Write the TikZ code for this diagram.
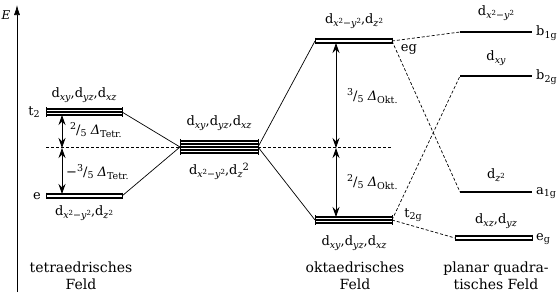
\documentclass[tikz,border=0pt]{standalone}
\usepackage{fontspec}
\setmainfont{DejaVu Serif}
\usetikzlibrary{arrows.meta}
\newcommand\mylevel[5]{%
  \coordinate (#1-l) at (#2,#4);
  \coordinate (#1-r) at (#3,#4);
  \pgfmathsetmacro\hh{1.6*(#5-1)}
  \ifnum#5>1
    \foreach \k in {1,...,#5}{\draw[levelline] (#2,{#4-\hh+3.2*(\k-1)}) -- (#3,{#4-\hh+3.2*(\k-1)});}
    \draw[capline] (#2,{#4-\hh-1.8}) -- (#2,{#4+\hh+1.8});
    \draw[capline] (#3,{#4-\hh-1.8}) -- (#3,{#4+\hh+1.8});
  \else
    \draw[singleline] (#2,#4) -- (#3,#4);
  \fi
}
\newcommand\sbs[1]{\raisebox{-0.35ex}{\fontsize{9.5}{10}\selectfont #1}}
\newcommand\sps[1]{\raisebox{0.55ex}{\fontsize{7}{7}\selectfont #1}}
\newcommand\dsub[1]{d\sbs{#1}}
\newcommand\xx{\textit{x}}
\newcommand\yy{\textit{y}}
\newcommand\zz{\textit{z}}
\newcommand\frc[2]{\raisebox{0.7ex}{\fontsize{9.5}{10}\selectfont #1}/\raisebox{-0.3ex}{\fontsize{9.5}{10}\selectfont #2}}
\begin{document}
\begin{tikzpicture}[x=1pt,y=-1pt,
  levelline/.style={line width=2.1pt},
  singleline/.style={line width=1.8pt},
  capline/.style={line width=0.6pt},
  conn/.style={line width=0.7pt},
  dconn/.style={line width=0.7pt,dash pattern=on 3pt off 2pt},
  gap/.style={line width=0.8pt,{Stealth[length=10pt,width=7pt]}-{Stealth[length=10pt,width=7pt]}},
  lbl/.style={font=\fontsize{13}{14}\selectfont,inner sep=0pt},
  big/.style={font=\fontsize{14}{16.5}\selectfont,inner sep=0pt,align=center}]
\useasboundingbox (0,0) rectangle (560,298);
% axis
\coordinate (ax0) at (17,292);
\coordinate (ax1) at (17,5);
\draw[line width=0.7pt,-{Latex[length=10pt,width=6pt]}] (ax0) -- (ax1);
\node[lbl,font=\fontsize{12}{13}\selectfont\itshape] (E) at (6,15) {E};
% levels
\mylevel{tt}{46}{122}{112}{3}
\mylevel{te}{46}{122}{196}{2}
\mylevel{c}{180}{258}{147}{5}
\mylevel{oe}{315}{392}{41}{2}
\mylevel{ot}{315}{392}{220}{3}
\mylevel{pb1}{460}{532}{32}{1}
\mylevel{pb2}{460}{532}{76}{1}
\mylevel{pa1}{460}{532}{192}{1}
\mylevel{pe}{455}{532}{238}{2}
% barycentre lines
\draw[dconn] (tt-l |- c-l) -- (c-l);
\draw[dconn] (c-r) -- (oe-r |- c-r);
% connectors
\draw[conn] (tt-r) -- (c-l);
\draw[conn] (te-r) -- (c-l);
\draw[conn] (c-r) -- (oe-l);
\draw[conn] (c-r) -- (ot-l);
\draw[dconn] (oe-r) -- (pb1-l);
\draw[dconn] (oe-r) -- (pa1-l);
\draw[dconn] (ot-r) -- (pb2-l);
\draw[dconn] (ot-r) -- (pe-l);
% gap arrows
\coordinate (ta1) at (62,115);
\coordinate (ta2) at (62,148);
\coordinate (ta3) at (62,194);
\draw[gap] (ta1) -- (ta2);
\draw[gap] (ta2) -- (ta3);
\coordinate (oa1) at (336,43);
\coordinate (oa2) at (336,148);
\coordinate (oa3) at (336,217);
\draw[gap] (oa1) -- (oa2);
\draw[gap] (oa2) -- (oa3);
% gap labels
\node[lbl,anchor=west] (g1) at (70,130) {\frc{2}{5} \textit{Δ}\sbs{Tetr.}};
\node[lbl,anchor=west] (g2) at (66,172) {−\frc{3}{5} \textit{Δ}\sbs{Tetr.}};
\node[lbl,anchor=west] (g3) at (347,96) {\frc{3}{5} \textit{Δ}\sbs{Okt.}};
\node[lbl,anchor=west] (g4) at (347,182) {\frc{2}{5} \textit{Δ}\sbs{Okt.}};
% orbital labels
\node[lbl] (l1) at (84,95) {\dsub{\xx\yy},\dsub{\yy\zz},\dsub{\xx\zz}};
\node[lbl] (l2) at (84,213) {\dsub{\xx\sps{2}−\yy\sps{2}},\dsub{\zz\sps{2}}};
\node[lbl] (l3) at (219,123) {\dsub{\xx\yy},\dsub{\yy\zz},\dsub{\xx\zz}};
\node[lbl] (l4) at (219,171) {\dsub{\xx\sps{2}−\yy\sps{2}},\dsub{\zz}\raisebox{0.7ex}{\fontsize{10}{10}\selectfont 2}};
\node[lbl] (l5) at (354,21) {\dsub{\xx\sps{2}−\yy\sps{2}},\dsub{\zz\sps{2}}};
\node[lbl] (l6) at (354,243) {\dsub{\xx\yy},\dsub{\yy\zz},\dsub{\xx\zz}};
\node[lbl] (l7) at (496,13) {\dsub{\xx\sps{2}−\yy\sps{2}}};
\node[lbl] (l8) at (496,58) {\dsub{\xx\yy}};
\node[lbl] (l9) at (496,175) {\dsub{\zz\sps{2}}};
\node[lbl] (l10) at (496,221) {\dsub{\xx\zz},\dsub{\yy\zz}};
% symmetry labels
\node[lbl] (s1) at (34,112) {t\sbs{2}};
\node[lbl] (s2) at (37,196) {e};
\node[lbl] (s3) at (409,49) {eg};
\node[lbl] (s4) at (413,215) {t\sbs{2g}};
\node[lbl,anchor=west] (s5) at (536,33) {b\sbs{1g}};
\node[lbl,anchor=west] (s6) at (536,77) {b\sbs{2g}};
\node[lbl,anchor=west] (s7) at (536,193) {a\sbs{1g}};
\node[lbl,anchor=west] (s8) at (536,239) {e\sbs{g}};
% field names
\node[big] (f1) at (81,276) {tetraedrisches\\Feld};
\node[big] (f2) at (355,276) {oktaedrisches\\Feld};
\node[big] (f3) at (496,276) {planar quadra-\\tisches Feld};
\end{tikzpicture}
\end{document}
